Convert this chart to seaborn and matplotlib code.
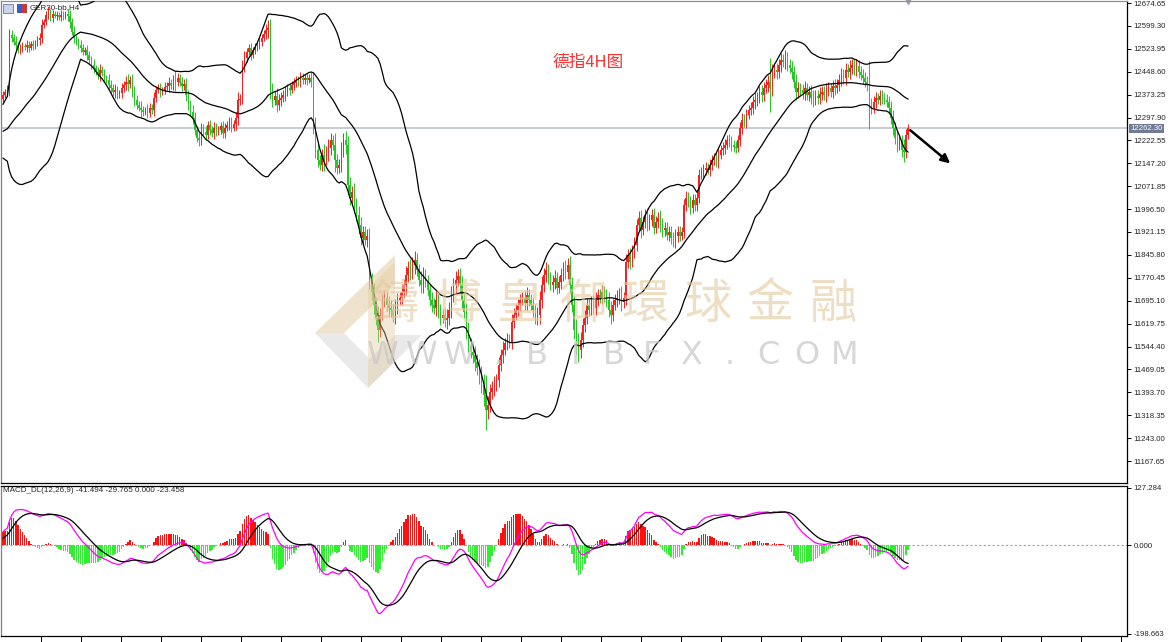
import numpy as np
import pandas as pd
import matplotlib
matplotlib.use("Agg")
import matplotlib.pyplot as plt
from matplotlib.patches import Polygon, Rectangle
from matplotlib.transforms import blended_transform_factory
import seaborn as sns

# bars before the visible window, only used to warm up the indicators
warmup_closes = [12230, 12215, 12240, 12260, 12245, 12225, 12210, 12230, 12250, 12265,
                 12240, 12220, 12205, 12215, 12235, 12250, 12270, 12255, 12240, 12225,
                 12210, 12200, 12215, 12240, 12260, 12285, 12300, 12320, 12345, 12360]

# GER30 H4 closes
closes = [
    12372, 12382, 12389, 12570, 12560, 12547, 12537, 12520, 12527, 12534,
    12530, 12537, 12527, 12540, 12534, 12544, 12553, 12560, 12603, 12613,
    12636, 12646, 12626, 12639, 12632, 12636, 12629, 12636, 12632, 12639,
    12632, 12613, 12580, 12560, 12547, 12537, 12527, 12514, 12520, 12504,
    12488, 12471, 12461, 12448, 12438, 12455, 12445, 12428, 12422, 12405,
    12395, 12382, 12389, 12372, 12379, 12395, 12405, 12415, 12409, 12422,
    12382, 12356, 12340, 12330, 12323, 12317, 12323, 12313, 12330, 12323,
    12363, 12389, 12395, 12382, 12389, 12399, 12402, 12412, 12405, 12422,
    12415, 12428, 12412, 12402, 12409, 12372, 12340, 12317, 12297, 12257,
    12231, 12224, 12264, 12251, 12241, 12274, 12257, 12247, 12264, 12251,
    12257, 12270, 12247, 12264, 12274, 12284, 12264, 12277, 12297, 12356,
    12356, 12471, 12494, 12514, 12527, 12504, 12520, 12530, 12537, 12547,
    12560, 12573, 12586, 12593, 12389, 12356, 12369, 12340, 12356, 12363,
    12372, 12382, 12395, 12389, 12405, 12412, 12422, 12415, 12428, 12422,
    12428, 12422, 12428, 12415, 12274, 12191, 12158, 12142, 12175, 12158,
    12185, 12198, 12224, 12208, 12158, 12132, 12142, 12191, 12224, 12208,
    12076, 12034, 12053, 12011, 11978, 11945, 11902, 11922, 11895, 11909,
    11757, 11724, 11682, 11639, 11599, 11649, 11698, 11705, 11682, 11672,
    11665, 11646, 11672, 11698, 11705, 11724, 11747, 11780, 11803, 11790,
    11813, 11830, 11797, 11764, 11747, 11780, 11757, 11731, 11698, 11682,
    11672, 11698, 11659, 11639, 11649, 11632, 11639, 11665, 11714, 11747,
    11764, 11777, 11747, 11698, 11659, 11599, 11550, 11527, 11517, 11494,
    11474, 11451, 11418, 11385, 11336, 11353, 11395, 11408, 11418, 11435,
    11484, 11517, 11533, 11556, 11566, 11560, 11626, 11649, 11665, 11682,
    11698, 11705, 11688, 11714, 11698, 11682, 11665, 11639, 11649, 11698,
    11747, 11780, 11797, 11770, 11747, 11757, 11770, 11737, 11757, 11780,
    11803, 11790, 11813, 11747, 11682, 11599, 11550, 11533, 11566, 11616,
    11639, 11682, 11665, 11692, 11672, 11698, 11714, 11705, 11724, 11711,
    11698, 11665, 11649, 11682, 11698, 11705, 11714, 11692, 11705, 11823,
    11846, 11823, 11862, 11879, 11945, 11968, 11928, 11955, 11978, 11945,
    11961, 11978, 11935, 11955, 11968, 11945, 11928, 11935, 11912, 11922,
    11902, 11889, 11909, 11922, 11909, 11922, 12011, 12034, 12021, 12001,
    12027, 12011, 12034, 12109, 12119, 12126, 12132, 12126, 12142, 12158,
    12165, 12152, 12175, 12191, 12198, 12208, 12224, 12218, 12208, 12201,
    12198, 12224, 12264, 12290, 12284, 12307, 12323, 12330, 12349, 12356,
    12363, 12382, 12372, 12395, 12405, 12415, 12395, 12448, 12455, 12448,
    12471, 12488, 12481, 12494, 12471, 12461, 12448, 12415, 12382, 12395,
    12389, 12379, 12395, 12372, 12382, 12363, 12356, 12369, 12363, 12376,
    12382, 12372, 12389, 12395, 12382, 12402, 12395, 12405, 12422, 12438,
    12428, 12455, 12448, 12461, 12471, 12455, 12468, 12448, 12438, 12428,
    12415, 12405, 12340, 12330, 12349, 12363, 12356, 12369, 12363, 12356,
    12349, 12330, 12297, 12264, 12231, 12208, 12218, 12191, 12185, 12241, 12262.3,
]

# wick length beyond the body (points)
wicks = [
    12, 10, 15, 20, 15, 12, 18, 10, 14, 12,
    10, 15, 12, 8, 14, 10, 12, 15, 18, 10,
    12, 15, 10, 14, 8, 12, 10, 15, 12, 10,
    15, 20, 12, 18, 10, 14, 15, 12, 10, 16,
    14, 12, 18, 10, 15, 20, 12, 14, 10, 18,
    15, 12, 20, 14, 10, 16, 12, 18, 25, 14,
    18, 20, 15, 12, 22, 14, 10, 18, 15, 12,
    20, 14, 12, 18, 10, 15, 12, 20, 14, 16,
    30, 15, 12, 18, 14, 20, 16, 14, 22, 18,
    14, 20, 15, 12, 18, 14, 16, 12, 20, 15,
    12, 14, 18, 15, 12, 16, 14, 12, 20, 25,
    18, 15, 22, 14, 12, 16, 10, 14, 12, 15,
    14, 12, 18, 25, 30, 22, 16, 25, 18, 20,
    15, 20, 14, 18, 12, 16, 14, 12, 18, 15,
    14, 16, 12, 18, 30, 25, 22, 18, 20, 35,
    18, 30, 22, 16, 40, 20, 18, 25, 22, 30,
    30, 25, 20, 28, 22, 30, 25, 20, 18, 22,
    25, 28, 30, 25, 40, 22, 18, 25, 20, 30,
    25, 20, 28, 22, 18, 25, 20, 30, 22, 28,
    25, 30, 22, 20, 28, 25, 18, 22, 20, 25,
    22, 28, 20, 25, 18, 22, 30, 25, 28, 22,
    30, 22, 25, 28, 20, 30, 25, 22, 28, 30,
    25, 30, 28, 35, 66, 30, 25, 22, 28, 20,
    25, 20, 28, 18, 22, 20, 25, 22, 18, 20,
    20, 18, 22, 25, 20, 18, 22, 20, 25, 30,
    28, 22, 25, 20, 18, 22, 25, 20, 18, 22,
    20, 25, 22, 28, 25, 30, 35, 40, 25, 22,
    25, 22, 20, 18, 22, 25, 20, 18, 22, 20,
    22, 25, 30, 20, 18, 25, 22, 30, 20, 25,
    20, 22, 18, 25, 20, 22, 25, 18, 20, 22,
    18, 20, 22, 18, 20, 25, 22, 20, 18, 20,
    20, 18, 22, 20, 18, 15, 20, 22, 18, 20,
    18, 20, 22, 18, 15, 20, 18, 15, 20, 18,
    15, 18, 20, 15, 18, 20, 15, 18, 20, 15,
    18, 15, 20, 22, 18, 20, 15, 18, 20, 22,
    20, 18, 22, 20, 18, 22, 80, 25, 20, 22,
    20, 22, 18, 25, 20, 18, 22, 20, 25, 20,
    18, 20, 22, 18, 20, 22, 25, 18, 20, 22,
    20, 18, 22, 20, 18, 20, 22, 18, 20, 22,
    20, 22, 18, 25, 20, 18, 22, 20, 18, 20,
    18, 20, 80, 22, 18, 20, 15, 18, 20, 15,
    18, 20, 22, 25, 20, 25, 18, 22, 35, 20, 15,
]

price_ticks = [12674.65, 12599.30, 12523.95, 12448.60, 12373.25, 12297.90, 12222.55,
               12147.20, 12071.85, 11996.50, 11921.15, 11845.80, 11770.45, 11695.10,
               11619.75, 11544.40, 11469.05, 11393.70, 11318.35, 11243.00, 11167.65]
macd_ticks = [127.284, 0.0, -198.663]
last_price = 12262.30
symbol_label = "GER30-bb,H4"
macd_label = "MACD_DL(12,26,9) -41.494 -29.765 0.000 -23.458"
title_text = "德指4H图"
wm_cn = ["鑄", "博", "皇", "御", "環", "球", "金", "融"]
wm_en = ["W", "W", "W", ".", "B", "I", "B", "F", "X", ".", "C", "O", "M"]
bb_period = 34

# ---- indicators
s = pd.Series(np.array(warmup_closes + closes, dtype=float))
mid = s.rolling(bb_period, min_periods=1).mean()
sd = s.rolling(bb_period, min_periods=1).std(ddof=0)
upper = mid + 2 * sd
lower = mid - 2 * sd
dif = s.ewm(span=12, adjust=False).mean() - s.ewm(span=26, adjust=False).mean()
dea = dif.ewm(span=9, adjust=False).mean()
hist = 2 * (dif - dea)
n0 = len(warmup_closes)

c = np.array(closes, dtype=float)
o = np.array([warmup_closes[-1]] + closes[:-1], dtype=float)
w = np.array(wicks, dtype=float)
hi = np.maximum(o, c) + w
lo = np.minimum(o, c) - w
idx = np.arange(len(c))

sns.set_style("white")
plt.rcParams["font.family"] = ["Liberation Sans", "DejaVu Sans"]

W, H = 1170, 642
fig = plt.figure(figsize=(W / 100, H / 100), dpi=100)
fig.patch.set_facecolor("white")

def fbox(x0, y0, x1, y1):
    return [x0 / W, 1 - y1 / H, (x1 - x0) / W, (y1 - y0) / H]

ax = fig.add_axes(fbox(1, 1, 1127, 483))
axm = fig.add_axes(fbox(1, 486, 1127, 636))

px_per_bar = 2.155
x_lo = (1 - 3) / px_per_bar
x_hi = (1127 - 3) / px_per_bar
pt_per_px = 1507.0 / 458.0

up_col, dn_col = "#ff1c1c", "#22c722"
cols = np.where(c >= o, up_col, dn_col)

ax.axhline(last_price, color="#c3c8d0", lw=1.3, zorder=1)
ax.vlines(idx, lo, hi, colors=cols, lw=0.7, zorder=3)
ax.bar(idx, np.maximum(np.abs(c - o), 2.0), bottom=np.minimum(o, c), width=0.65,
       color=cols, lw=0, zorder=3)

band_df = pd.DataFrame({"i": idx, "up": upper.values[n0:], "mid": mid.values[n0:],
                        "lo": lower.values[n0:]})
for col in ["up", "mid", "lo"]:
    sns.lineplot(data=band_df, x="i", y=col, ax=ax, color="black", lw=0.9, zorder=4)

ax.set_xlim(x_lo, x_hi)
ax.set_ylim(12674.65 - 480 * pt_per_px, 12674.65 + 2 * pt_per_px)

# arrow
ax.annotate("", xy=(440.5, 12141), xytext=(420, 12262),
            arrowprops=dict(arrowstyle="-|>", color="black", lw=1.8, mutation_scale=13),
            zorder=6)
# shift marker
ax.plot([420], [1.0], marker="v", color="#9aa0aa", ms=5,
        transform=blended_transform_factory(ax.transData, ax.transAxes), clip_on=False)

ax.text(0.521, 0.872, title_text, transform=ax.transAxes, color="#ff3030",
        fontsize=12, ha="center", va="center", family=["Noto Sans CJK SC", "DejaVu Sans"])

# price axis
ax.yaxis.tick_right()
ax.set_yticks(price_ticks)
ax.set_yticklabels([f"{v:.2f}" for v in price_ticks])
ax.tick_params(axis="y", right=True, length=3, width=0.7, pad=1.5, labelsize=5.6,
               color="black")
ax.tick_params(axis="x", bottom=False, labelbottom=False)
ax.set_xlabel("")
ax.set_ylabel("")
ax.text(1.003, last_price, f"{last_price:.2f}", color="white", fontsize=5.6,
        transform=blended_transform_factory(ax.transAxes, ax.transData),
        ha="left", va="center",
        bbox=dict(boxstyle="square,pad=0.15", fc="#6f7b92", ec="none"), clip_on=False)

# MACD panel
mcols = np.where(hist.values[n0:] >= 0, "#ff1010", "#2ef02e")
axm.bar(idx, hist.values[n0:], width=0.65, color=mcols, lw=0, zorder=2)
axm.axhline(0, color="#a0a0a0", lw=0.8, ls=(0, (2, 2)), zorder=1)
macd_df = pd.DataFrame({"i": idx, "dif": dif.values[n0:], "dea": dea.values[n0:]})
sns.lineplot(data=macd_df, x="i", y="dif", ax=axm, color="#ff00ff", lw=0.9, zorder=3)
sns.lineplot(data=macd_df, x="i", y="dea", ax=axm, color="black", lw=0.9, zorder=3)
m_ppu = (634 - 488) / (127.284 + 198.663)
axm.set_xlim(x_lo, x_hi)
axm.set_ylim(-198.663 - 2 / m_ppu, 127.284 + 2 / m_ppu)
axm.yaxis.tick_right()
axm.set_yticks(macd_ticks)
axm.set_yticklabels(["127.284", "0.000", "-198.663"])
axm.tick_params(axis="y", right=True, length=3, width=0.7, pad=1.5, labelsize=5.6,
                color="black")
xt = (np.arange(40, 1127, 40) + 0.7 - 3) / px_per_bar
axm.set_xticks(xt)
axm.tick_params(axis="x", bottom=True, length=6, width=0.7, labelbottom=False,
                color="black")
axm.set_xlabel("")
axm.set_ylabel("")

for a in (ax, axm):
    a.set_facecolor("white")
    for side in ("right", "bottom", "top"):
        a.spines[side].set_color("black")
        a.spines[side].set_linewidth(0.9)
    a.spines["left"].set_color("#808080")
    a.spines["left"].set_linewidth(0.9)
ax.spines["top"].set_color("#909090")

fig.text(30 / W, 1 - 8 / H, symbol_label, fontsize=5.8, va="center", ha="left")
fig.text(3 / W, 1 - 491 / H, macd_label, fontsize=5.8, va="center", ha="left")
# little chart icons before the symbol
fig.add_artist(Rectangle((3 / W, 1 - 13 / H), 10 / W, 9 / H, transform=fig.transFigure,
                         fc="#c8d4ec", ec="#6a7aa8", lw=0.6))
fig.add_artist(Rectangle((17 / W, 1 - 13 / H), 5 / W, 9 / H, transform=fig.transFigure,
                         fc="#3a5cc8", ec="none"))
fig.add_artist(Rectangle((22 / W, 1 - 13 / H), 5 / W, 9 / H, transform=fig.transFigure,
                         fc="#c83a3a", ec="none"))

# watermark logo + text
def fpoly(pts, color, alpha):
    p = Polygon([(x / W, 1 - y / H) for x, y in pts], closed=True, transform=fig.transFigure,
                fc=color, ec="none", alpha=alpha, zorder=10)
    fig.add_artist(p)

tan, grey = "#e3c99d", "#d4d4d4"
fpoly([(315, 333), (395, 255), (395, 284), (344, 333)], tan, 0.5)
fpoly([(315, 333), (344, 333), (368, 357), (368, 388)], grey, 0.5)
fpoly([(368, 388), (422, 335), (395, 335), (368, 360)], grey, 0.5)
fpoly([(368, 288), (395, 262), (395, 362), (368, 388)], tan, 0.4)

for k, ch in enumerate(wm_cn):
    fig.text((395 + 62.6 * k) / W, 1 - 305 / H, ch, fontsize=34, color=tan, alpha=0.6,
             ha="center", va="center", family=["Noto Sans CJK TC", "DejaVu Sans"],
             zorder=10)
for k, ch in enumerate(wm_en):
    fig.text((383 + 38.5 * k) / W, 1 - 355 / H, ch, fontsize=23, color="#cacaca", alpha=0.75,
             ha="center", va="center", family=["DejaVu Sans"], zorder=10)

fig.savefig("out.png", dpi=100, facecolor="white")
